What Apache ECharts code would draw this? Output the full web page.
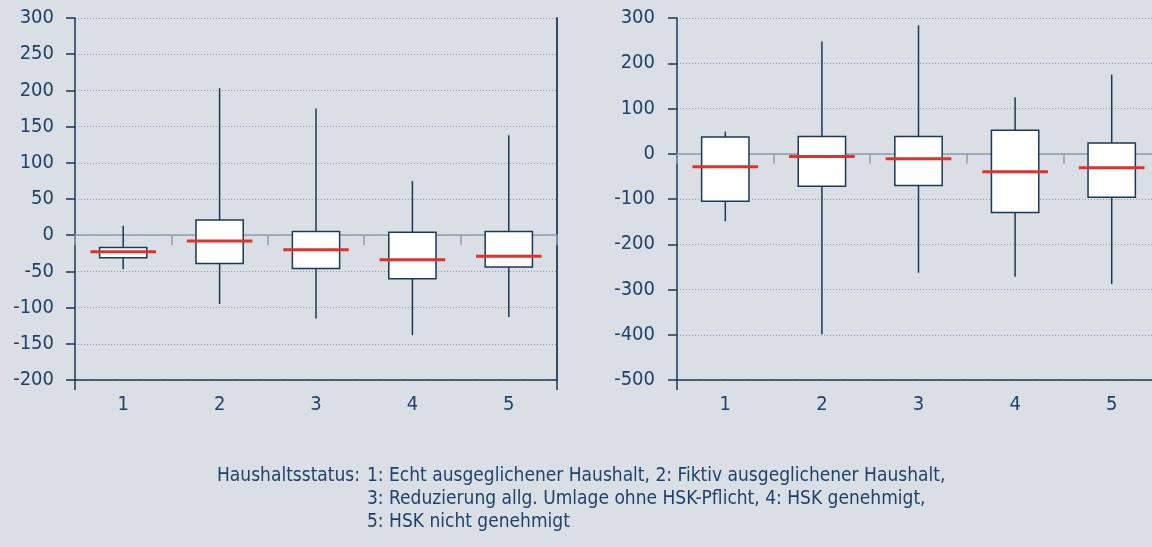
<!DOCTYPE html>
<html>
<head>
<meta charset="utf-8">
<script src="https://cdn.jsdelivr.net/npm/echarts@6/dist/echarts.min.js"></script>
<style>
html,body{margin:0;padding:0;background:#d9dfe5;}
#c{width:1152px;height:547px;}
</style>
</head>
<body>
<div id="c"></div>
<script>
// Categories (Haushaltsstatus)
const categories = ['1', '2', '3', '4', '5'];

// Left panel: [min, Q1, median, Q3, max]
const leftMin    = [-47, -95, -115, -138, -113];
const leftQ1     = [-31, -39, -46, -60, -44];
const leftMedian = [-23, -8, -20, -34, -29];
const leftQ3     = [-17, 21, 5, 4, 5];
const leftMax    = [13, 203, 175, 75, 138];

// Right panel: [min, Q1, median, Q3, max]
const rightMin    = [-149, -399, -263, -272, -288];
const rightQ1     = [-105, -72, -70, -130, -96];
const rightMedian = [-29, -6, -11, -40, -31];
const rightQ3     = [37, 38, 38, 52, 24];
const rightMax    = [49, 248, 284, 125, 175];

// Axis ranges / ticks
const leftYMin = -200, leftYMax = 300, leftYStep = 50;
const rightYMin = -500, rightYMax = 300, rightYStep = 100;

const legendHead = 'Haushaltsstatus:';
const legendLines = [
  '1: Echt ausgeglichener Haushalt, 2: Fiktiv ausgeglichener Haushalt,',
  '3: Reduzierung allg. Umlage ohne HSK-Pflicht, 4: HSK genehmigt,',
  '5: HSK nicht genehmigt'
];

const FONT = '"Liberation Sans Narrow", "DejaVu Sans Condensed", "Open Sans", sans-serif';
const TXT = '#1f4268';
const NAVY = '#1b3855';
const ZERO = '#8d9fb1';
const RED = '#e2302a';
const FS = 20;
const LFS = 19;

function rows(mn, q1, md, q3, mx) {
  return categories.map((c, i) => [i, mn[i], q1[i], md[i], q3[i], mx[i]]);
}

function renderBox(params, api) {
  const x = api.value(0);
  const lo = api.coord([x, api.value(1)]);
  const q1 = api.coord([x, api.value(2)]);
  const md = api.coord([x, api.value(3)]);
  const q3 = api.coord([x, api.value(4)]);
  const hi = api.coord([x, api.value(5)]);
  const bw = api.size([1, 0])[0];
  const boxW = bw * 0.49;
  const medW = bw * 0.68;
  return {
    type: 'group',
    children: [
      { type: 'line', shape: { x1: lo[0], y1: lo[1], x2: hi[0], y2: hi[1] },
        style: { stroke: NAVY, lineWidth: 1.5 } },
      { type: 'rect', shape: { x: q3[0] - boxW / 2, y: q3[1], width: boxW, height: q1[1] - q3[1] },
        style: { fill: '#ffffff', stroke: NAVY, lineWidth: 1.5 } },
      { type: 'line', shape: { x1: md[0] - medW / 2, y1: md[1], x2: md[0] + medW / 2, y2: md[1] },
        style: { stroke: RED, lineWidth: 3 } }
    ]
  };
}

function bottomX(gi) {
  return {
    type: 'category', gridIndex: gi, data: categories, position: 'bottom',
    boundaryGap: true,
    axisLine: { onZero: false, lineStyle: { color: NAVY, width: 1.5 } },
    axisTick: { show: true, interval: (i) => i === 0, length: 10, lineStyle: { color: NAVY, width: 1.5 } },
    axisLabel: { interval: 0, margin: 15, color: TXT, fontSize: FS, fontFamily: FONT },
    splitLine: { show: false }
  };
}
function zeroX(gi) {
  return {
    type: 'category', gridIndex: gi, data: categories, position: 'bottom',
    boundaryGap: true,
    axisLine: { onZero: true, lineStyle: { color: ZERO, width: 1.5 } },
    axisTick: { show: true, interval: 0, length: 10, lineStyle: { color: ZERO, width: 1.5 } },
    axisLabel: { show: false },
    splitLine: { show: false }
  };
}
function valY(gi, mn, mx, step, margin) {
  return {
    type: 'value', gridIndex: gi, min: mn, max: mx, interval: step,
    axisLine: { show: true, onZero: false, lineStyle: { color: NAVY, width: 1.5 } },
    axisTick: { show: true, length: 9, lineStyle: { color: NAVY, width: 1.5 } },
    axisLabel: { margin: margin, color: TXT, fontSize: FS, fontFamily: FONT },
    splitLine: { show: true, lineStyle: { color: '#8e9dad', width: 1, type: [1, 2] } }
  };
}

const chart = echarts.init(document.getElementById('c'), null, { renderer: 'canvas' });
chart.setOption({
  backgroundColor: '#d9dfe5',
  animation: false,
  textStyle: { fontFamily: FONT },
  title: [
    { text: legendHead, left: 217, top: 465, padding: 0,
      textStyle: { color: TXT, fontSize: LFS, fontWeight: 'normal', fontFamily: FONT, lineHeight: 23 } },
    { text: legendLines.join('\n'), left: 367, top: 465, padding: 0,
      textStyle: { color: TXT, fontSize: LFS, fontWeight: 'normal', fontFamily: FONT, lineHeight: 23 } }
  ],
  grid: [
    { left: 75, right: 595, top: 18, bottom: 167, containLabel: false, outerBoundsMode: 'none' },
    { left: 677, right: -8, top: 18, bottom: 167, containLabel: false, outerBoundsMode: 'none' }
  ],
  xAxis: [bottomX(0), zeroX(0), bottomX(1), zeroX(1)],
  yAxis: [
    valY(0, leftYMin, leftYMax, leftYStep, 21),
    { type: 'value', gridIndex: 0, position: 'right', min: leftYMin, max: leftYMax, interval: leftYStep,
      axisLine: { show: true, onZero: false, lineStyle: { color: '#2c4d6d', width: 2 } },
      axisTick: { show: false }, axisLabel: { show: false }, splitLine: { show: false } },
    valY(1, rightYMin, rightYMax, rightYStep, 22)
  ],
  series: [
    { type: 'custom', xAxisIndex: 0, yAxisIndex: 0, renderItem: renderBox,
      encode: { x: 0, y: [1, 2, 3, 4, 5] },
      data: rows(leftMin, leftQ1, leftMedian, leftQ3, leftMax), z: 5 },
    { type: 'custom', xAxisIndex: 2, yAxisIndex: 2, renderItem: renderBox,
      encode: { x: 0, y: [1, 2, 3, 4, 5] },
      data: rows(rightMin, rightQ1, rightMedian, rightQ3, rightMax), z: 5 }
  ]
});
</script>
</body>
</html>
